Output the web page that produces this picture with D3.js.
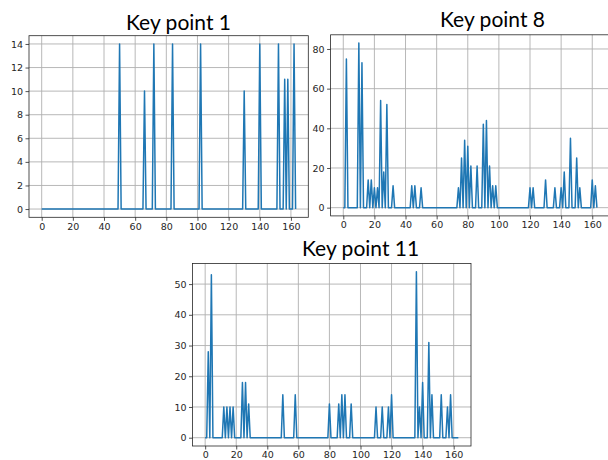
<!DOCTYPE html>
<html>
<head>
<meta charset="utf-8">
<script src="https://cdn.jsdelivr.net/npm/d3@7"></script>
<style>
  html, body { margin: 0; padding: 0; background: #fff; }
  svg { display: block; }
  .tick text { font-family: "DejaVu Sans", sans-serif; font-size: 9.5px; fill: #262626; }
  .title { font-family: Lato, "Open Sans", sans-serif; font-size: 21px; fill: #000; }
</style>
</head>
<body>
<svg id="chart" width="608" height="460"></svg>
<script>
// ---- data (frame index -> value; all other frames are 0) ----
const frameCount = 164;

const kp1Frames = [50, 66, 72, 84, 102, 130, 140, 152, 156, 158, 162];
const kp1Values = [14, 10, 14, 14, 14, 10, 14, 14, 11, 11, 14];

const kp8Frames = [2, 10, 12, 16, 18, 20, 22, 24, 26, 28, 32, 44, 46, 50, 74, 76, 78, 80, 82, 86, 90, 92, 94, 96, 98, 120, 122, 130, 136, 140, 142, 146, 150, 152, 160, 162];
const kp8Values = [75, 83, 73, 14, 14, 10, 10, 54, 18, 52, 11, 11, 11, 10, 10, 25, 34, 31, 21, 21, 42, 44, 21, 11, 11, 10, 10, 14, 10, 10, 18, 35, 25, 10, 14, 11];

const kp11Frames = [2, 4, 12, 14, 16, 18, 24, 26, 28, 50, 58, 80, 86, 88, 90, 94, 110, 114, 118, 120, 136, 138, 140, 144, 146, 152, 156, 158];
const kp11Values = [28, 53, 10, 10, 10, 10, 18, 18, 11, 14, 14, 11, 11, 14, 14, 11, 10, 10, 10, 14, 54, 10, 18, 31, 14, 14, 10, 14];

const xTicks = [0, 20, 40, 60, 80, 100, 120, 140, 160];
const kp1YTicks = [0, 2, 4, 6, 8, 10, 12, 14];
const kp8YTicks = [0, 20, 40, 60, 80];
const kp11YTicks = [0, 10, 20, 30, 40, 50];

const titles = ["Key point 1", "Key point 8", "Key point 11"];

function series(frames, values) {
  const arr = new Array(frameCount).fill(0);
  frames.forEach((f, i) => { arr[f] = values[i]; });
  return arr;
}

const panels = [
  { title: titles[0], data: series(kp1Frames, kp1Values), yTicks: kp1YTicks,
    box: { l: 29, r: 308.3, t: 35.7, b: 217.3 }, titleX: 126, titleY: 30 },
  { title: titles[1], data: series(kp8Frames, kp8Values), yTicks: kp8YTicks,
    box: { l: 330.6, r: 609.6, t: 34.8, b: 215.9 }, titleX: 440, titleY: 27 },
  { title: titles[2], data: series(kp11Frames, kp11Values), yTicks: kp11YTicks,
    box: { l: 192.5, r: 471, t: 263.5, b: 446 }, titleX: 302, titleY: 256 }
];

const svg = d3.select("#chart");

panels.forEach(p => {
  const n = p.data.length - 1;
  const xm = n * 0.05;
  const ymax = d3.max(p.data), ymin = d3.min(p.data);
  const ym = (ymax - ymin) * 0.05;
  const x = d3.scaleLinear().domain([0 - xm, n + xm]).range([p.box.l, p.box.r]);
  const y = d3.scaleLinear().domain([ymin - ym, ymax + ym]).range([p.box.b, p.box.t]);

  const g = svg.append("g");

  // grid
  g.append("g").selectAll("line").data(xTicks).join("line")
    .attr("x1", d => x(d)).attr("x2", d => x(d))
    .attr("y1", p.box.t).attr("y2", p.box.b)
    .attr("stroke", "#b0b0b0").attr("stroke-width", 0.9);
  g.append("g").selectAll("line").data(p.yTicks).join("line")
    .attr("x1", p.box.l).attr("x2", p.box.r)
    .attr("y1", d => y(d)).attr("y2", d => y(d))
    .attr("stroke", "#b0b0b0").attr("stroke-width", 0.9);

  // line
  const line = d3.line().x((d, i) => x(i)).y(d => y(d));
  g.append("path").datum(p.data)
    .attr("d", line)
    .attr("fill", "none")
    .attr("stroke", "#1f77b4")
    .attr("stroke-width", 1.5)
    .attr("stroke-linejoin", "round");

  // axes
  const xAxis = d3.axisBottom(x).tickValues(xTicks).tickSize(3.5).tickPadding(2).tickFormat(d3.format("d"));
  const yAxis = d3.axisLeft(y).tickValues(p.yTicks).tickSize(3.5).tickPadding(2.5).tickFormat(d3.format("d"));
  const gx = g.append("g").attr("transform", `translate(0,${p.box.b})`).call(xAxis);
  const gy = g.append("g").attr("transform", `translate(${p.box.l},0)`).call(yAxis);
  [gx, gy].forEach(a => {
    a.select(".domain").remove();
    a.selectAll(".tick line").attr("stroke", "#262626").attr("stroke-width", 0.8);
  });

  // frame
  g.append("rect")
    .attr("x", p.box.l).attr("y", p.box.t)
    .attr("width", p.box.r - p.box.l).attr("height", p.box.b - p.box.t)
    .attr("fill", "none").attr("stroke", "#262626").attr("stroke-width", 0.8);

  // title
  svg.append("text").attr("class", "title")
    .attr("x", p.titleX).attr("y", p.titleY)
    .text(p.title);
});
</script>
</body>
</html>
